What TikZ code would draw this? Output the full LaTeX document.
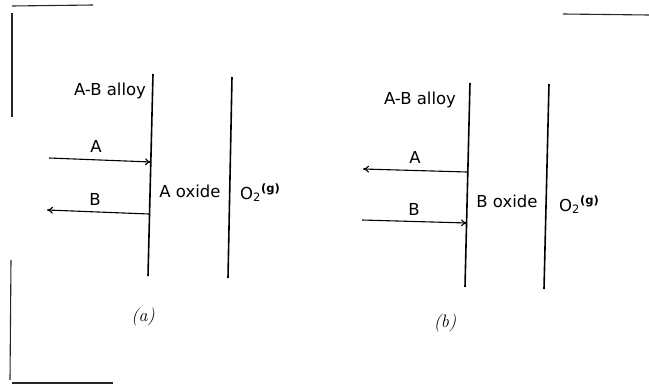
\documentclass[tikz,border=0pt]{standalone}
\usepackage{fontspec}
\setmainfont{DejaVu Sans}
\newfontfamily\capfont{Latin Modern Roman}
\usetikzlibrary{arrows.meta}
\tikzset{
  wall/.style={line width=1.6pt},
  flux/.style={line width=1.1pt,-{To[length=6pt,width=7pt]}},
  lbl/.style={font=\fontsize{16.5}{18}\selectfont,inner sep=0pt},
  panellabel/.style={font=\capfont\itshape\fontsize{18}{20}\selectfont,inner sep=0pt},
  scanedge/.style={line width=1.1pt,black!85}
}
\begin{document}
\begin{tikzpicture}[x=1pt,y=-1pt]
\useasboundingbox (0,0) rectangle (649,388);
% scan edge marks
\coordinate (e1) at (12,6); \coordinate (e2) at (93,5);
\coordinate (e3) at (12,13); \coordinate (e4) at (12,117);
\coordinate (e5) at (11,260); \coordinate (e6) at (10,380);
\coordinate (e7) at (12,383); \coordinate (e8) at (113,383);
\coordinate (e9) at (563,14); \coordinate (e10) at (649,15);
\draw[scanedge] (e1) -- (e2);
\draw[scanedge] (e3) -- (e4);
\draw[scanedge] (e5) -- (e6);
\draw[scanedge] (e7) -- (e8);
\draw[scanedge] (e9) -- (e10);
% ---------- panel (a) ----------
\coordinate (a1t) at (153,74);  \coordinate (a1b) at (148,276);
\coordinate (a2t) at (232,77);  \coordinate (a2b) at (228,278);
\draw[wall] (a1t) -- (a1b);
\draw[wall] (a2t) -- (a2b);
\node[lbl] (aalloy) at (110,91) {A-B alloy};
\coordinate (aAs) at (49,158); \coordinate (aAe) at (151,162);
\coordinate (aBs) at (149,214); \coordinate (aBe) at (47,210);
\draw[flux] (aAs) -- (aAe);
\draw[flux] (aBs) -- (aBe);
\node[lbl] (aA) at (96,146) {A};
\node[lbl] (aB) at (95,199) {B};
\node[lbl] (aox) at (190,191) {A oxide};
\node[lbl,anchor=west] (aO) at (240,193) {O\textsubscript{2}\textsuperscript{\bfseries(g)}};
\node[panellabel] (alab) at (143,317) {(a)};
% ---------- panel (b) ----------
\coordinate (b1t) at (470,83);  \coordinate (b1b) at (465,287);
\coordinate (b2t) at (549,84);  \coordinate (b2b) at (544,289);
\draw[wall] (b1t) -- (b1b);
\draw[wall] (b2t) -- (b2b);
\node[lbl] (balloy) at (420,100) {A-B alloy};
\coordinate (bAs) at (467,172); \coordinate (bAe) at (363,169);
\coordinate (bBs) at (362,220); \coordinate (bBe) at (467,223);
\draw[flux] (bAs) -- (bAe);
\draw[flux] (bBs) -- (bBe);
\node[lbl] (bA) at (415,157) {A};
\node[lbl] (bB) at (414,209) {B};
\node[lbl] (box) at (507,201) {B oxide};
\node[lbl,anchor=west] (bO) at (559,205) {O\textsubscript{2}\textsuperscript{\bfseries(g)}};
\node[panellabel] (blab) at (445,323) {(b)};
\end{tikzpicture}
\end{document}
